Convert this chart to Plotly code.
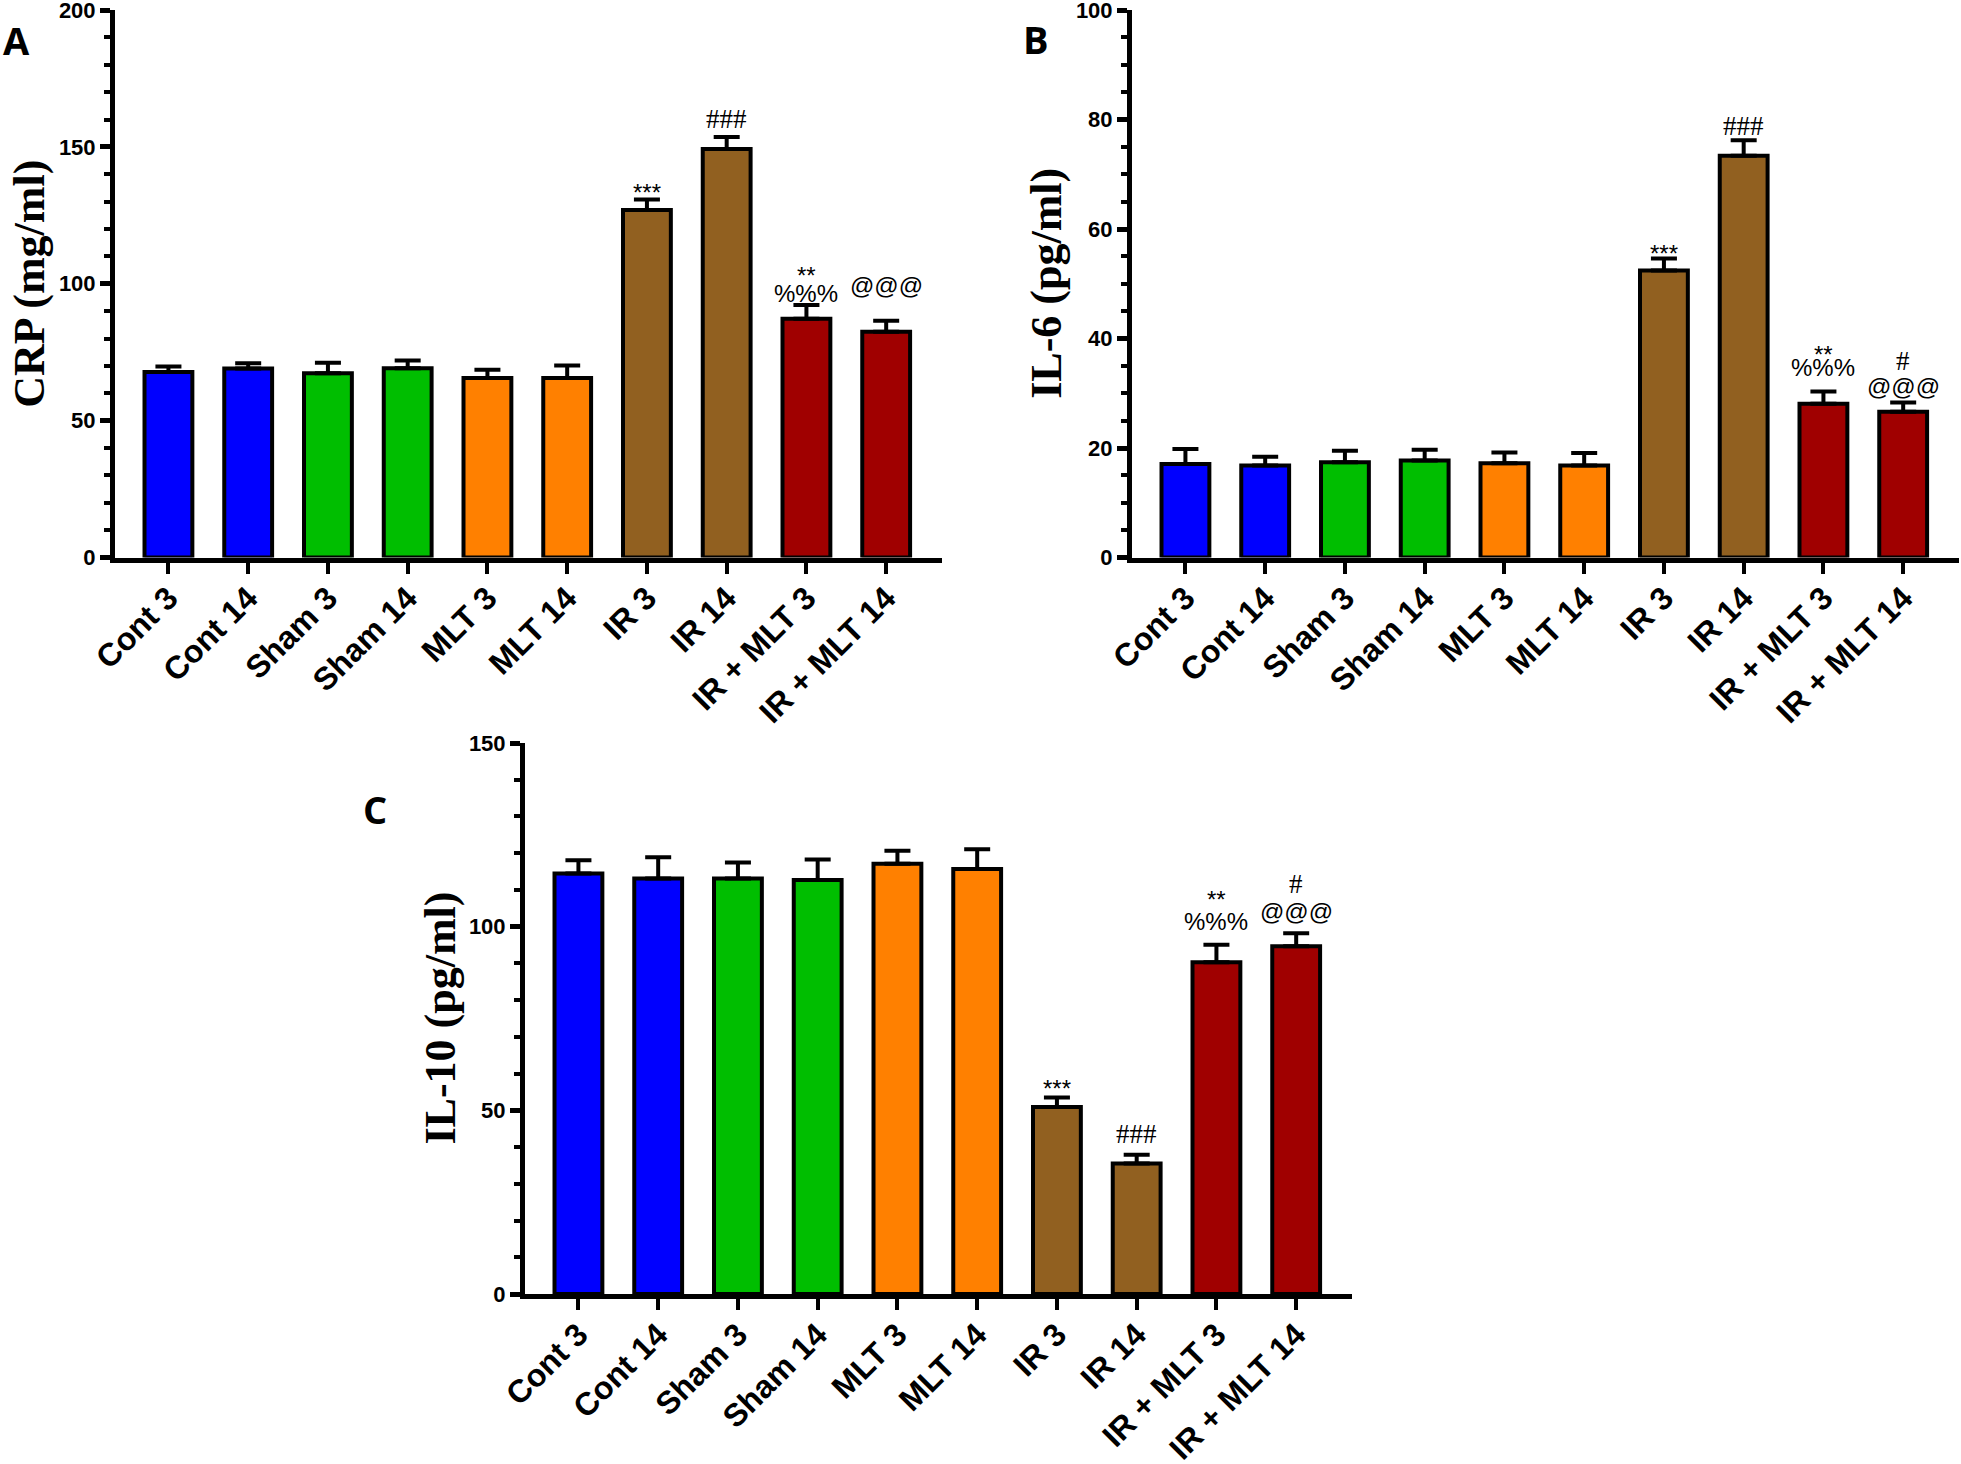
import plotly.graph_objects as go

# ---------------- data ----------------
categories = ["Cont 3", "Cont 14", "Sham 3", "Sham 14", "MLT 3", "MLT 14",
              "IR 3", "IR 14", "IR + MLT 3", "IR + MLT 14"]

crp_mean = [67.8, 69.0, 67.3, 69.1, 65.6, 65.6, 126.9, 149.2, 87.2, 82.5]
crp_err = [2.0, 2.0, 3.8, 2.9, 3.0, 4.5, 3.9, 4.4, 5.0, 4.0]

il6_mean = [17.1, 16.8, 17.4, 17.7, 17.2, 16.8, 52.4, 73.4, 28.1, 26.6]
il6_err = [2.7, 1.6, 2.1, 2.0, 2.0, 2.3, 2.2, 2.8, 2.2, 1.7]

il10_mean = [114.5, 113.1, 113.1, 112.7, 117.1, 115.7, 50.9, 35.5, 90.3, 94.7]
il10_err = [3.6, 5.8, 4.4, 5.6, 3.6, 5.4, 2.6, 2.4, 4.8, 3.5]

# significance marks: category index -> lines (bottom line first)
crp_sig = {6: ["***"], 7: ["###"], 8: ["%%%", "**"], 9: ["@@@"]}
il6_sig = {6: ["***"], 7: ["###"], 8: ["%%%", "**"], 9: ["@@@", "#"]}
il10_sig = {6: ["***"], 7: ["###"], 8: ["%%%", "**"], 9: ["@@@", "#"]}

panel_letters = ["A", "B", "C"]
y_titles = ["CRP (mg/ml)", "IL-6 (pg/ml)", "IL-10 (pg/ml)"]

# ---------------- style ----------------
W, H = 1961, 1464
bar_colors = ["#0000FF", "#0000FF", "#00BE00", "#00BE00", "#FF8000", "#FF8000",
              "#916020", "#916020", "#A00000", "#A00000"]

# pixel geometry of each panel: (left, right, top, bottom)
panels_px = [(115, 942, 10, 557.5), (1132, 1959, 10, 557.5), (525, 1352, 743, 1294)]
y_ranges = [(0, 200), (0, 100), (0, 150)]
y_major = [50, 20, 50]
y_minor = [10, 5, 10]

# pixel offsets (visual centre above the error cap) for each sig line
sig_offsets = [
    {6: [14], 7: [18], 8: [12, 37], 9: [35]},
    {6: [12], 7: [14], 8: [24, 44], 9: [16, 42]},
    {6: [16], 7: [21], 8: [23, 52], 9: [22, 49]},
]
letter_pos = [(16, 40), (1036, 39), (375, 809)]

means = [crp_mean, il6_mean, il10_mean]
errs = [crp_err, il6_err, il10_err]
sigs = [crp_sig, il6_sig, il10_sig]

fig = go.Figure()
annotations = []

for p in range(3):
    sfx = "" if p == 0 else str(p + 1)
    xa, ya = "x" + sfx, "y" + sfx
    fig.add_trace(go.Bar(
        x=categories, y=means[p], xaxis=xa, yaxis=ya,
        marker=dict(color=bar_colors, line=dict(color="black", width=4)),
        width=0.6,
        error_y=dict(type="data", symmetric=False, array=errs[p],
                     arrayminus=[0] * len(categories),
                     color="black", thickness=4, width=13),
        showlegend=False, hoverinfo="skip",
    ))
    l, r, t, b = panels_px[p]
    lo, hi = y_ranges[p]
    fig.layout["xaxis" + sfx] = dict(
        domain=[l / W, r / W], anchor=ya, range=[-0.67, 9.70], automargin=False,
        showline=True, linecolor="black", linewidth=5,
        ticks="outside", ticklen=11, tickwidth=4, tickcolor="black",
        tickangle=-45, showgrid=False, zeroline=False, ticklabelstandoff=-7,
        tickfont=dict(family="Liberation Sans, Arial", size=32, color="black", weight="bold"),
    )
    fig.layout["yaxis" + sfx] = dict(
        domain=[1 - b / H, 1 - t / H], anchor=xa, range=[lo, hi], automargin=False,
        showline=True, linecolor="black", linewidth=5,
        ticks="outside", ticklen=10, tickwidth=5, tickcolor="black",
        dtick=y_major[p], tick0=0, showgrid=False, zeroline=False,
        ticklabeloverflow="allow",
        minor=dict(dtick=y_minor[p], ticks="outside", ticklen=6, tickwidth=4,
                   tickcolor="black", showgrid=False),
        tickfont=dict(family="Liberation Sans, Arial", size=22, color="black", weight="bold"),
    )
    # y-axis title
    annotations.append(dict(
        xref="paper", yref="paper", x=(l - 85) / W, y=1 - ((t + b) / 2) / H,
        text=y_titles[p], textangle=-90, showarrow=False,
        xanchor="center", yanchor="middle",
        font=dict(family="Liberation Serif, Times New Roman", size=44, color="black", weight="bold"),
    ))
    # panel letter
    lx, ly = letter_pos[p]
    annotations.append(dict(
        xref="paper", yref="paper", x=lx / W, y=1 - ly / H, text=panel_letters[p],
        showarrow=False, xanchor="center", yanchor="middle",
        font=dict(family="Open Sans, Liberation Sans", size=38, color="black", weight="bold"),
    ))
    # significance marks
    for idx, lines in sigs[p].items():
        top = means[p][idx] + errs[p][idx]
        for k, txt in enumerate(lines):
            off = sig_offsets[p][idx][k]
            is_star = txt.startswith("*")
            is_hash = txt.startswith("#")
            fam = "Liberation Serif, Times New Roman" if is_hash else "Liberation Sans, Arial"
            size = 27 if is_hash else 24
            shift = off - 7 if is_star else off
            annotations.append(dict(
                xref=xa, yref=ya, x=categories[idx], y=top, text=txt,
                showarrow=False, xanchor="center", yanchor="middle", yshift=shift,
                font=dict(family=fam, size=size, color="black"),
            ))

fig.update_layout(
    width=W, height=H, margin=dict(l=0, r=0, t=0, b=0, autoexpand=False),
    paper_bgcolor="white", plot_bgcolor="white",
    annotations=annotations, bargap=0.4,
)

fig.write_html("out.html", config={"displayModeBar": False},
               post_script="document.body.style.margin='0px';")
